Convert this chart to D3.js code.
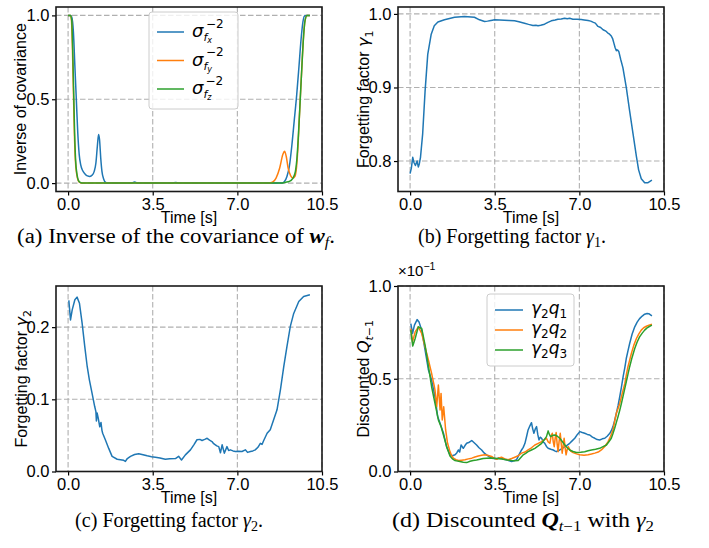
<!DOCTYPE html>
<html><head><meta charset="utf-8">
<script src="https://cdn.jsdelivr.net/npm/d3@7"></script>
<style>body{margin:0;background:#fff} text{font-family:"Liberation Sans",Arial,sans-serif}</style>
</head><body><svg id="c" width="709" height="548" xmlns="http://www.w3.org/2000/svg"></svg>
<script>
// ---------------- DATA ----------------
const xTicks = [0, 3.5, 7, 10.5];
const xTickLabels = ["0.0", "3.5", "7.0", "10.5"];
const covTicks = [0, 0.5, 1.0];
const covTickLabels = ["0.0", "0.5", "1.0"];
const g1Ticks = [0.8, 0.9, 1.0];
const g1TickLabels = ["0.8", "0.9", "1.0"];
const g2Ticks = [0, 0.1, 0.2];
const g2TickLabels = ["0.0", "0.1", "0.2"];
const qTicks = [0, 0.5, 1.0];
const qTickLabels = ["0.0", "0.5", "1.0"];

// (a) inverse of covariance  [time, value]
const covFx = [[0,1],[0.1,1],[0.15,0.99],[0.22,0.9],[0.28,0.7],[0.34,0.5],[0.4,0.3],[0.46,0.17],[0.52,0.11],[0.6,0.075],[0.7,0.055],[0.8,0.043],[0.9,0.04],[1.0,0.048],[1.08,0.07],[1.15,0.12],[1.21,0.22],[1.26,0.29],[1.3,0.26],[1.35,0.15],[1.4,0.07],[1.47,0.025],[1.55,0.005],[1.65,0],[2.6,0],[2.75,0.006],[2.9,0],[4.3,0],[4.45,0.004],[4.6,0],[8.85,0],[8.95,0.01],[9.05,0.04],[9.15,0.1],[9.25,0.22],[9.35,0.37],[9.45,0.52],[9.55,0.7],[9.63,0.85],[9.7,0.95],[9.77,0.995],[9.85,1],[10,1]];
const covFy = [[0,1],[0.1,1],[0.14,0.97],[0.18,0.8],[0.22,0.55],[0.26,0.3],[0.3,0.14],[0.36,0.05],[0.42,0.015],[0.5,0.003],[0.6,0],[8.3,0],[8.45,0.005],[8.6,0.03],[8.75,0.09],[8.88,0.17],[8.95,0.19],[9.02,0.16],[9.1,0.09],[9.2,0.045],[9.3,0.03],[9.38,0.04],[9.45,0.1],[9.5,0.2],[9.55,0.35],[9.6,0.5],[9.67,0.7],[9.74,0.88],[9.8,0.97],[9.88,1],[10,1]];
const covFz = [[0,1],[0.1,1],[0.15,0.97],[0.19,0.8],[0.23,0.55],[0.27,0.3],[0.31,0.14],[0.37,0.05],[0.43,0.015],[0.52,0.003],[0.62,0],[8.8,0],[9.0,0.005],[9.15,0.01],[9.3,0.03],[9.4,0.07],[9.47,0.16],[9.53,0.3],[9.6,0.5],[9.67,0.7],[9.74,0.88],[9.8,0.97],[9.88,1],[10,1]];

// (b) forgetting factor gamma1
const gamma1 = [[0.0,0.783],[0.05,0.79],[0.11,0.805],[0.16,0.798],[0.22,0.794],[0.29,0.8],[0.34,0.792],[0.38,0.796],[0.43,0.805],[0.52,0.837],[0.62,0.895],[0.73,0.945],[0.87,0.972],[1.0,0.984],[1.15,0.989],[1.42,0.992],[1.84,0.9955],[2.25,0.9964],[2.66,0.9955],[2.87,0.992],[3.08,0.9897],[3.2,0.9902],[3.28,0.9906],[3.4,0.9914],[3.49,0.992],[3.7,0.9918],[3.9,0.9915],[4.1,0.9912],[4.32,0.9906],[4.5,0.9894],[4.73,0.9874],[4.9,0.9858],[5.08,0.9843],[5.2,0.9846],[5.29,0.9838],[5.4,0.9846],[5.56,0.986],[5.7,0.9885],[5.84,0.9906],[6.0,0.9918],[6.11,0.9928],[6.25,0.9932],[6.39,0.9942],[6.5,0.9933],[6.6,0.994],[6.73,0.9928],[6.9,0.9926],[7.08,0.9924],[7.2,0.9918],[7.36,0.991],[7.47,0.9902],[7.56,0.9888],[7.66,0.9875],[7.77,0.983],[7.88,0.9815],[7.98,0.9785],[8.1,0.9765],[8.18,0.974],[8.25,0.9725],[8.32,0.970],[8.38,0.966],[8.43,0.960],[8.48,0.954],[8.53,0.950],[8.58,0.951],[8.63,0.949],[8.71,0.938],[8.8,0.927],[8.94,0.9],[9.08,0.868],[9.22,0.837],[9.36,0.806],[9.45,0.788],[9.56,0.776],[9.7,0.7705],[9.84,0.7705],[10.0,0.774]];

// (c) forgetting factor gamma2
const gamma2 = [[0.03,0.237],[0.1,0.21],[0.17,0.224],[0.28,0.238],[0.37,0.2416],[0.47,0.233],[0.58,0.2055],[0.69,0.173],[0.79,0.1455],[0.88,0.127],[0.99,0.1085],[1.1,0.09],[1.15,0.083],[1.17,0.07],[1.2,0.081],[1.24,0.075],[1.31,0.062],[1.36,0.068],[1.4,0.057],[1.43,0.053],[1.54,0.044],[1.68,0.032],[1.82,0.021],[2.03,0.017],[2.23,0.016],[2.3,0.0155],[2.37,0.014],[2.45,0.018],[2.58,0.021],[2.75,0.0235],[2.92,0.0245],[3.1,0.0232],[3.27,0.0217],[3.45,0.0205],[3.61,0.0199],[3.8,0.0188],[4.02,0.017],[4.2,0.0178],[4.44,0.018],[4.57,0.021],[4.69,0.016],[4.85,0.023],[5.06,0.03],[5.2,0.037],[5.33,0.044],[5.45,0.0445],[5.54,0.043],[5.65,0.0445],[5.75,0.046],[5.85,0.0435],[5.95,0.0415],[6.02,0.0385],[6.09,0.037],[6.15,0.0355],[6.23,0.0345],[6.3,0.026],[6.37,0.037],[6.46,0.0254],[6.57,0.0345],[6.64,0.029],[6.71,0.03],[6.82,0.0285],[6.92,0.0277],[7.05,0.0282],[7.19,0.0277],[7.33,0.03],[7.42,0.0265],[7.54,0.0277],[7.64,0.0285],[7.74,0.03],[7.85,0.0335],[7.95,0.039],[8.02,0.0375],[8.09,0.043],[8.23,0.053],[8.36,0.058],[8.5,0.0716],[8.64,0.0855],[8.78,0.113],[8.92,0.1455],[9.05,0.173],[9.19,0.201],[9.33,0.219],[9.54,0.2355],[9.74,0.2425],[10.0,0.245]];

// (d) discounted Q (x 1e-1)
const qBlue = [[0.03,0.797],[0.10,0.744],[0.18,0.789],[0.29,0.819],[0.37,0.806],[0.48,0.762],[0.62,0.654],[0.76,0.547],[0.89,0.493],[1.03,0.403],[1.14,0.296],[1.24,0.26],[1.38,0.206],[1.51,0.134],[1.65,0.09],[1.75,0.085],[1.86,0.09],[1.93,0.1],[2.0,0.116],[2.05,0.105],[2.11,0.143],[2.2,0.125],[2.27,0.14],[2.34,0.152],[2.45,0.158],[2.55,0.167],[2.65,0.155],[2.75,0.143],[2.85,0.128],[2.96,0.116],[3.06,0.1],[3.16,0.09],[3.27,0.08],[3.37,0.072],[3.47,0.07],[3.58,0.068],[3.68,0.074],[3.78,0.072],[3.88,0.066],[3.99,0.063],[4.1,0.058],[4.2,0.054],[4.3,0.058],[4.4,0.063],[4.5,0.09],[4.61,0.116],[4.68,0.13],[4.75,0.152],[4.82,0.19],[4.88,0.224],[4.95,0.245],[5.02,0.263],[5.07,0.23],[5.12,0.206],[5.18,0.23],[5.23,0.242],[5.28,0.2],[5.33,0.17],[5.38,0.185],[5.44,0.179],[5.5,0.16],[5.57,0.152],[5.64,0.135],[5.71,0.125],[5.82,0.12],[5.92,0.116],[6.0,0.11],[6.05,0.107],[6.12,0.112],[6.19,0.116],[6.3,0.125],[6.4,0.134],[6.5,0.142],[6.6,0.152],[6.7,0.165],[6.81,0.179],[6.92,0.2],[7.02,0.215],[7.12,0.21],[7.22,0.206],[7.33,0.2],[7.43,0.197],[7.54,0.185],[7.64,0.179],[7.74,0.172],[7.84,0.17],[7.95,0.176],[8.05,0.179],[8.15,0.19],[8.26,0.206],[8.32,0.22],[8.39,0.242],[8.46,0.275],[8.53,0.314],[8.6,0.355],[8.67,0.403],[8.74,0.455],[8.81,0.511],[8.88,0.56],[8.94,0.609],[9.01,0.65],[9.08,0.69],[9.18,0.74],[9.29,0.78],[9.39,0.805],[9.49,0.824],[9.6,0.838],[9.7,0.848],[9.8,0.852],[9.87,0.851],[10.0,0.839]];
const qOrange = [[0.03,0.77],[0.10,0.699],[0.21,0.753],[0.34,0.78],[0.48,0.744],[0.62,0.672],[0.76,0.6],[0.89,0.529],[1.0,0.46],[1.03,0.439],[1.10,0.349],[1.17,0.466],[1.24,0.332],[1.28,0.421],[1.33,0.278],[1.39,0.349],[1.47,0.224],[1.55,0.152],[1.65,0.107],[1.72,0.085],[1.79,0.072],[1.9,0.064],[2.0,0.059],[2.13,0.061],[2.27,0.063],[2.41,0.068],[2.55,0.072],[2.68,0.078],[2.82,0.084],[2.96,0.087],[3.1,0.09],[3.24,0.086],[3.37,0.081],[3.47,0.072],[3.58,0.066],[3.68,0.073],[3.78,0.077],[3.92,0.068],[4.06,0.063],[4.2,0.07],[4.33,0.077],[4.47,0.085],[4.61,0.099],[4.75,0.105],[4.88,0.116],[5.02,0.128],[5.16,0.143],[5.3,0.152],[5.44,0.161],[5.54,0.17],[5.64,0.179],[5.71,0.16],[5.78,0.152],[5.83,0.19],[5.88,0.206],[5.92,0.16],[5.96,0.134],[6.0,0.18],[6.04,0.21],[6.08,0.15],[6.12,0.107],[6.16,0.16],[6.21,0.206],[6.25,0.15],[6.29,0.099],[6.33,0.14],[6.37,0.179],[6.41,0.13],[6.45,0.09],[6.5,0.12],[6.54,0.134],[6.64,0.11],[6.74,0.102],[6.88,0.095],[7.02,0.09],[7.19,0.088],[7.36,0.09],[7.5,0.094],[7.64,0.099],[7.78,0.105],[7.91,0.116],[8.05,0.135],[8.19,0.161],[8.29,0.19],[8.39,0.224],[8.46,0.27],[8.53,0.314],[8.6,0.34],[8.67,0.367],[8.77,0.42],[8.88,0.475],[8.94,0.52],[9.01,0.565],[9.08,0.6],[9.15,0.636],[9.25,0.68],[9.36,0.717],[9.46,0.742],[9.56,0.762],[9.66,0.775],[9.77,0.783],[9.88,0.789],[10.0,0.794]];
const qGreen = [[0.03,0.762],[0.11,0.676],[0.21,0.717],[0.34,0.78],[0.48,0.771],[0.62,0.681],[0.76,0.565],[0.89,0.457],[1.03,0.367],[1.17,0.278],[1.28,0.242],[1.38,0.197],[1.51,0.134],[1.65,0.084],[1.75,0.068],[1.86,0.059],[1.96,0.056],[2.06,0.054],[2.2,0.05],[2.34,0.048],[2.48,0.055],[2.61,0.059],[2.75,0.062],[2.89,0.066],[3.02,0.07],[3.16,0.072],[3.33,0.073],[3.51,0.072],[3.68,0.069],[3.85,0.066],[4.02,0.062],[4.2,0.059],[4.33,0.058],[4.47,0.059],[4.58,0.075],[4.68,0.09],[4.78,0.098],[4.88,0.107],[5.02,0.116],[5.16,0.125],[5.3,0.138],[5.44,0.152],[5.54,0.17],[5.64,0.188],[5.71,0.219],[5.76,0.2],[5.81,0.188],[5.9,0.195],[5.99,0.197],[6.09,0.19],[6.19,0.179],[6.3,0.16],[6.4,0.143],[6.5,0.128],[6.6,0.116],[6.74,0.108],[6.88,0.102],[7.05,0.104],[7.22,0.107],[7.36,0.112],[7.5,0.116],[7.67,0.12],[7.84,0.125],[7.98,0.134],[8.12,0.143],[8.22,0.16],[8.32,0.179],[8.39,0.205],[8.46,0.233],[8.53,0.265],[8.6,0.296],[8.67,0.33],[8.74,0.367],[8.84,0.425],[8.94,0.484],[9.01,0.525],[9.08,0.565],[9.18,0.615],[9.29,0.663],[9.39,0.698],[9.49,0.726],[9.6,0.746],[9.7,0.762],[9.8,0.774],[9.91,0.783],[10.0,0.789]];

// ---------------- DRAWING ----------------
const C = {blue:"#1f77b4", orange:"#ff7f0e", green:"#2ca02c"};
const svg = d3.select("#c");
const SANS = '"Liberation Sans", Arial, sans-serif';
const MATH = '"DejaVu Sans", sans-serif';
const SERIF = '"Liberation Serif", "Times New Roman", serif';

function rich(g, x, y, parts, attrs) {
  const t = g.append("text").attr("x", x).attr("y", y);
  Object.entries(attrs || {}).forEach(([k, v]) => t.attr(k, v));
  let cur = 0;
  parts.forEach(p => {
    const sh = p.shift || 0;
    const ts = t.append("tspan").attr("dy", sh - cur).text(p.t);
    if (p.dx) ts.attr("dx", p.dx);
    if (p.family) ts.style("font-family", p.family);
    if (p.size) ts.style("font-size", p.size + "px");
    if (p.italic) ts.style("font-style", "italic");
    if (p.bold) ts.style("font-weight", "bold");
    cur = sh;
  });
  return t;
}

let clipId = 0;
function panel(cfg) {
  const g = svg.append("g");
  const x = d3.scaleLinear().domain([-0.5, 10.5]).range([cfg.x0, cfg.x1]);
  const y = d3.scaleLinear().domain(cfg.yDomain).range([cfg.y1, cfg.y0]);
  const grid = g.append("g").attr("stroke", "#b0b0b0").attr("stroke-width", 1.1).attr("stroke-dasharray", "5.5,2.5");
  xTicks.forEach(v => grid.append("line").attr("x1", x(v)).attr("x2", x(v)).attr("y1", cfg.y0).attr("y2", cfg.y1));
  cfg.yTicks.forEach(v => grid.append("line").attr("x1", cfg.x0).attr("x2", cfg.x1).attr("y1", y(v)).attr("y2", y(v)));
  const id = "clip" + (clipId++);
  svg.append("clipPath").attr("id", id).append("rect")
    .attr("x", cfg.x0).attr("y", cfg.y0).attr("width", cfg.x1 - cfg.x0).attr("height", cfg.y1 - cfg.y0);
  const lines = g.append("g").attr("clip-path", `url(#${id})`);
  cfg.series.forEach(s => {
    const line = d3.line().x(d => x(d[0])).y(d => y(d[1])).curve(s.smooth ? d3.curveMonotoneX : d3.curveLinear);
    lines.append("path").attr("d", line(s.data)).attr("fill", "none")
      .attr("stroke", s.color).attr("stroke-width", 1.5).attr("stroke-linejoin", "round");
  });
  const xa = g.append("g").attr("transform", `translate(0,${cfg.y1})`)
    .call(d3.axisBottom(x).tickValues(xTicks).tickFormat((d, i) => xTickLabels[i]).tickSizeOuter(0).tickSize(4).tickPadding(2.5));
  const ya = g.append("g").attr("transform", `translate(${cfg.x0},0)`)
    .call(d3.axisLeft(y).tickValues(cfg.yTicks).tickFormat((d, i) => cfg.yTickLabels[i]).tickSizeOuter(0).tickSize(4).tickPadding(2.5));
  [xa, ya].forEach(a => {
    a.select(".domain").remove();
    a.selectAll("line").attr("stroke", "#000").attr("stroke-width", 1.2);
    a.selectAll("text").style("font-family", SANS).style("font-size", "16.5px").attr("fill", "#000");
  });
  g.append("rect").attr("x", cfg.x0).attr("y", cfg.y0).attr("width", cfg.x1 - cfg.x0).attr("height", cfg.y1 - cfg.y0)
    .attr("fill", "none").attr("stroke", "#1a1a1a").attr("stroke-width", 1.6);
  g.append("text").attr("x", (cfg.x0 + cfg.x1) / 2).attr("y", cfg.y1 + 31).attr("text-anchor", "middle")
    .style("font-family", SANS).style("font-size", "16px").text("Time [s]");
  const yl = g.append("g").attr("transform", `translate(${cfg.ylx},${(cfg.y0 + cfg.y1) / 2}) rotate(-90)`);
  rich(yl, 0, 0, cfg.ylabel, {"text-anchor": "middle"}).style("font-family", SANS).style("font-size", "16px");
  return {g, x, y};
}

// (a)
panel({x0: 56, x1: 322, y0: 7, y1: 191.5, yDomain: [-0.05, 1.05], yTicks: covTicks, yTickLabels: covTickLabels,
  ylx: 26, ylabel: [{t: "Inverse of covariance"}],
  series: [{data: covFx, color: C.blue, smooth: true}, {data: covFy, color: C.orange, smooth: true}, {data: covFz, color: C.green, smooth: true}]});
// (b)
panel({x0: 398, x1: 664, y0: 7, y1: 191.5, yDomain: [0.7586, 1.0094], yTicks: g1Ticks, yTickLabels: g1TickLabels,
  ylx: 369, ylabel: [{t: "Forgetting factor "}, {t: "γ", family: MATH, italic: true}, {t: "1", family: MATH, size: 11, shift: 3.5}],
  series: [{data: gamma1, color: C.blue}]});
// (c)
panel({x0: 56, x1: 322, y0: 286, y1: 471.5, yDomain: [0, 0.257], yTicks: g2Ticks, yTickLabels: g2TickLabels,
  ylx: 27, ylabel: [{t: "Forgetting factor "}, {t: "γ", family: MATH, italic: true}, {t: "2", family: MATH, size: 11, shift: 3.5}],
  series: [{data: gamma2, color: C.blue}]});
// (d)
panel({x0: 398, x1: 664, y0: 286, y1: 471.5, yDomain: [0, 1.0], yTicks: qTicks, yTickLabels: qTickLabels,
  ylx: 369, ylabel: [{t: "Discounted "}, {t: "Q", family: MATH, italic: true}, {t: "t", family: MATH, italic: true, size: 11, shift: 3.5}, {t: "−1", family: MATH, size: 11, shift: 3.5}],
  series: [{data: qBlue, color: C.blue}, {data: qOrange, color: C.orange}, {data: qGreen, color: C.green}]});

// offset text in (d)
rich(svg, 398, 276, [{t: "×10", size: 15}, {t: "−1", size: 10.5, shift: -6}], {}).style("font-family", SANS);

// legend (a)
const la = svg.append("g");
la.append("rect").attr("x", 149).attr("y", 12).attr("width", 89).attr("height", 97).attr("rx", 3)
  .attr("fill", "#fff").attr("fill-opacity", 0.8).attr("stroke", "#cccccc").attr("stroke-width", 1);
[["x", C.blue, 32], ["y", C.orange, 60.5], ["z", C.green, 89]].forEach(([s, col, ry]) => {
  la.append("line").attr("x1", 157).attr("x2", 184).attr("y1", ry).attr("y2", ry).attr("stroke", col).attr("stroke-width", 1.5);
  rich(la, 192, ry + 5, [
    {t: "σ", italic: true, size: 18},
    {t: "f", italic: true, size: 11, shift: 4},
    {t: s, italic: true, size: 8, shift: 6},
    {t: "−2", size: 12, shift: -9.5, dx: -6}
  ], {}).style("font-family", MATH);
});

// legend (d)
const ld = svg.append("g");
ld.append("rect").attr("x", 487).attr("y", 294).attr("width", 87).attr("height", 72).attr("rx", 3)
  .attr("fill", "#fff").attr("fill-opacity", 0.8).attr("stroke", "#cccccc").attr("stroke-width", 1);
[["1", C.blue, 310], ["2", C.orange, 330], ["3", C.green, 350]].forEach(([s, col, ry]) => {
  ld.append("line").attr("x1", 495).attr("x2", 523).attr("y1", ry).attr("y2", ry).attr("stroke", col).attr("stroke-width", 1.5);
  rich(ld, 531, ry + 4, [{t: "γ", italic: true, size: 17}, {t: "2", size: 12, shift: 4}, {t: "q", italic: true, size: 17, shift: 0}, {t: s, size: 12, shift: 4}], {}).style("font-family", MATH);
});

// captions
const cap = (x, y, w, parts) => rich(svg, x, y, parts, {textLength: w, lengthAdjust: "spacingAndGlyphs"})
  .style("font-family", SERIF).style("font-size", "20px");
cap(17, 243, 318, [{t: "(a) Inverse of the covariance of "}, {t: "w", bold: true, italic: true}, {t: "f", italic: true, size: 14, shift: 4}, {t: ".", shift: 0}]);
cap(418, 243, 188, [{t: "(b) Forgetting factor "}, {t: "γ", italic: true}, {t: "1", size: 14, shift: 4}, {t: ".", shift: 0}]);
cap(75, 527, 188, [{t: "(c) Forgetting factor "}, {t: "γ", italic: true}, {t: "2", size: 14, shift: 4}, {t: ".", shift: 0}]);
cap(392, 527, 262, [{t: "(d) Discounted "}, {t: "Q", bold: true, italic: true}, {t: "t", italic: true, size: 14, shift: 4}, {t: "−1", size: 14, shift: 4}, {t: " with ", shift: 0}, {t: "γ", italic: true}, {t: "2", size: 14, shift: 4}]);
</script></body></html>
